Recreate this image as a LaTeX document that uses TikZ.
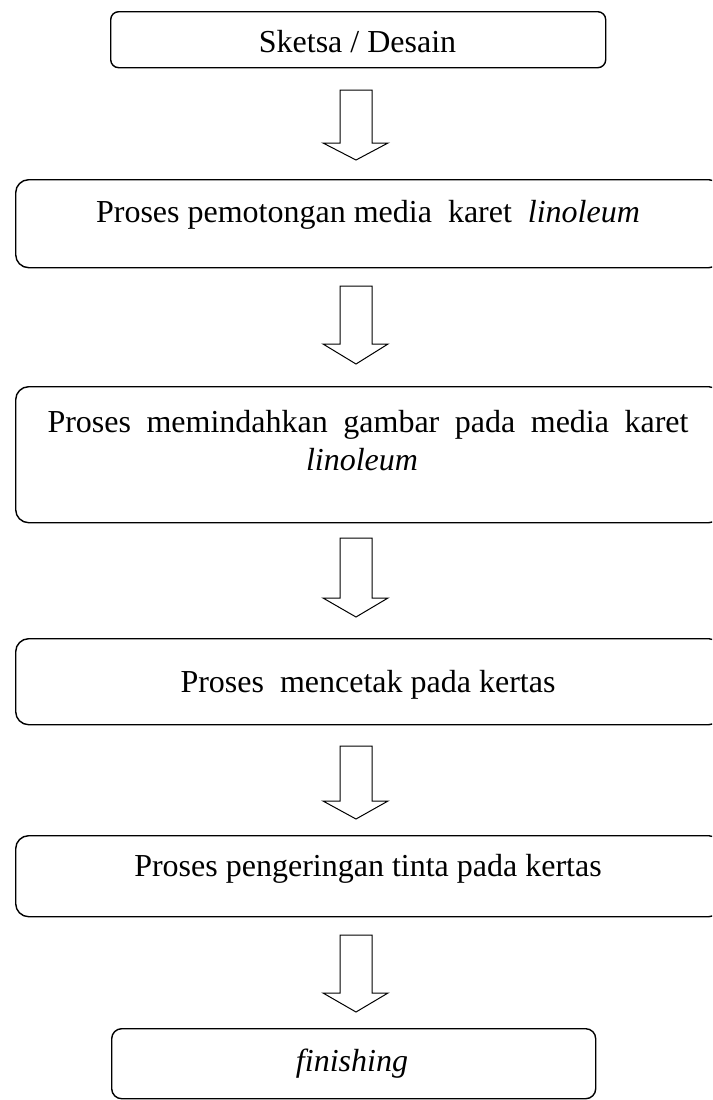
\documentclass[tikz,border=0pt]{standalone}
\usepackage{fontspec}
\setmainfont{Liberation Serif}
\newcommand\blockarrow[3]{%
  \draw[barrow] (340,#1) -- (372,#1) -- (372,#2) -- (388,#2) -- (356,#3) -- (323,#2) -- (340,#2) -- cycle;}
\begin{document}
\begin{tikzpicture}[x=1pt,y=-1pt,
  box/.style={draw, line width=1.4pt, rounded corners=#1, inner sep=0pt, anchor=north west},
  box/.default=13pt,
  txt/.style={inner sep=0pt, anchor=base, font=\fontsize{32}{38}\selectfont},
  barrow/.style={draw, line width=1pt, line join=miter}]
\useasboundingbox (0,0) rectangle (712,1100);
\clip (0,0) rectangle (712,1100);
% boxes
\node[box=8pt, minimum width=495pt, minimum height=56pt] (b1) at (110,11) {};
\node[box, minimum width=706pt, minimum height=88pt] (b2) at (15,179) {};
\node[box, minimum width=706pt, minimum height=136pt] (b3) at (15,386) {};
\node[box, minimum width=706pt, minimum height=86pt] (b4) at (15,638) {};
\node[box, minimum width=706pt, minimum height=81pt] (b5) at (15,835) {};
\node[box=10pt, minimum width=484pt, minimum height=70pt] (b6) at (111,1028) {};
% texts
\node[txt] (t1) at (357.5,52) {Sketsa / Desain};
\node[txt] (t2) at (368,222) {Proses pemotongan media\ \ karet\ \ \textit{linoleum}};
\node[txt] (t3a) at (368,432) {\makebox[641pt][s]{Proses memindahkan gambar pada media karet}};
\node[txt] (t3b) at (362,470) {\textit{linoleum}};
\node[txt] (t4) at (368,692) {Proses\ \ mencetak pada kertas};
\node[txt] (t5) at (368,876) {Proses pengeringan tinta pada kertas};
\node[txt] (t6) at (352,1071) {\textit{finishing}};
% block arrows
\blockarrow{90}{143}{160}
\blockarrow{286}{344}{364}
\blockarrow{538}{598}{617}
\blockarrow{746}{801}{819}
\blockarrow{935}{993}{1012}
\end{tikzpicture}
\end{document}
